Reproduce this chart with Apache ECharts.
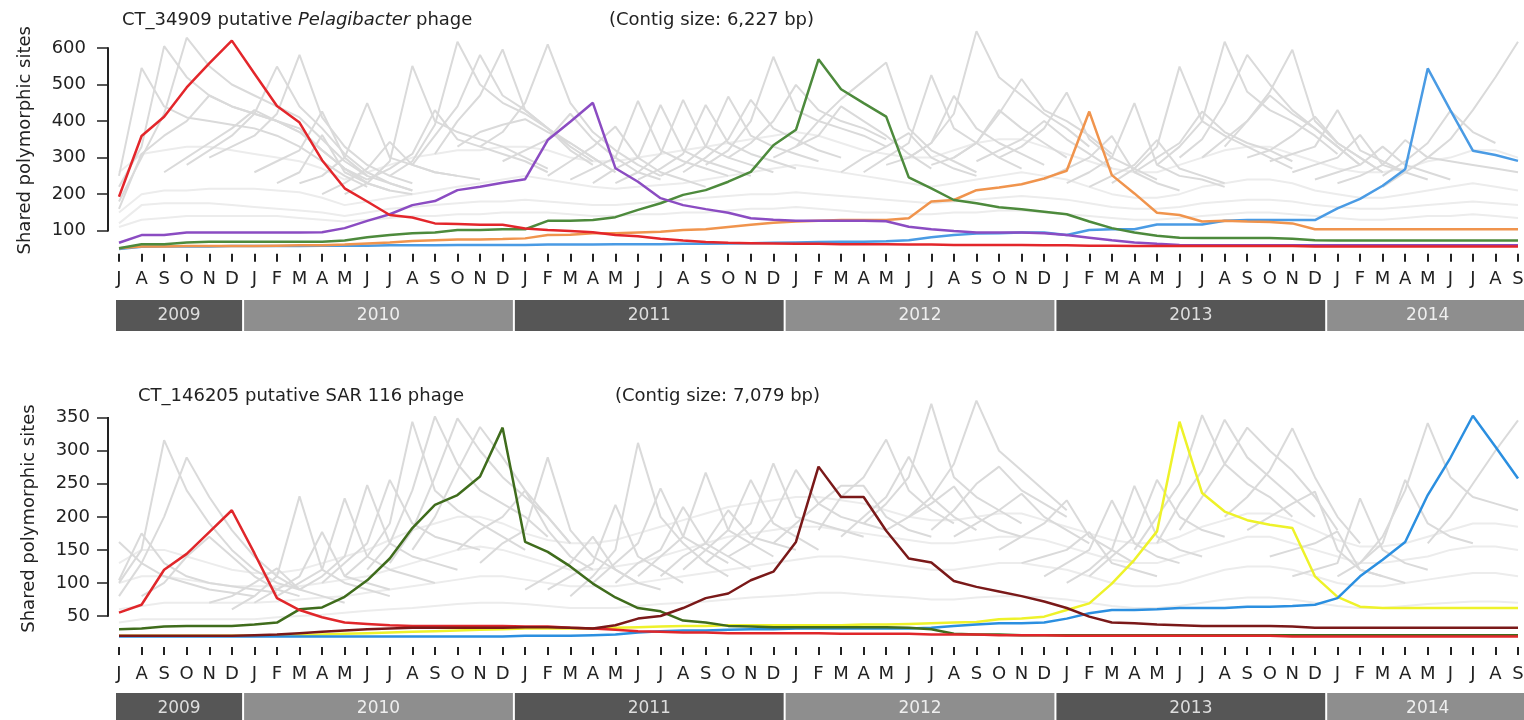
<!DOCTYPE html>
<html><head><meta charset="utf-8">
<script src="https://cdn.jsdelivr.net/npm/echarts@6/dist/echarts.min.js"></script>
<style>html,body{margin:0;padding:0;background:#fff}#c{width:1524px;height:720px}</style>
</head><body><div id="c"></div><script>
// ---------- categories / tick labels ----------
const monthLabels = [
 'J','A','S','O','N','D',
 'J','F','M','A','M','J','J','A','S','O','N','D',
 'J','F','M','A','M','J','J','A','S','O','N','D',
 'J','F','M','A','M','J','J','A','S','O','N','D',
 'J','F','M','A','M','J','J','A','S','O','N','D',
 'J','F','M','A','M','J','J','A','S'];
const yearLabels = ['2009','2010','2011','2012','2013','2014'];
const yearMonthCounts = [6,12,12,12,12,9];
const yTicksTop = [100,200,300,400,500,600];
const yTicksBottom = [50,100,150,200,250,300,350];

// ---------- top panel: highlighted series ----------
const topRed = [193,359,412,492,558,620,
 530,441,396,293,216,180,143,136,120,118,116,116,
 106,102,99,96,88,85,78,73,69,67,66,65,
 64,64,63,63,63,62,62,61,61,61,61,60,
 60,59,59,58,58,58,58,58,58,58,58,57,
 57,57,57,57,57,57,57,57,57];
const topPurple = [67,88,88,95,95,95,
 95,95,95,96,107,127,145,170,181,211,220,231,
 241,348,398,450,271,234,189,170,159,149,134,130,
 127,127,127,127,126,111,104,99,95,95,95,93,
 88,81,74,68,64,61,60,60,60,60,60,60,
 60,60,60,60,60,60,60,60,60];
const topGreen = [52,63,63,68,70,70,
 70,70,70,70,73,82,88,93,95,102,102,104,
 104,127,127,129,137,157,175,198,211,234,261,334,
 376,569,487,449,412,246,216,184,175,164,159,152,
 145,125,107,95,86,81,80,80,80,80,78,74,
 73,73,73,73,73,73,73,73,73];
const topOrange = [52,57,57,58,58,58,
 58,59,60,60,62,65,68,72,74,76,76,77,
 79,88,89,93,93,95,97,102,104,110,116,122,
 125,127,129,129,129,134,180,184,211,218,227,243,
 264,426,252,202,149,143,125,127,125,124,120,104,
 104,104,104,104,104,104,104,104,104];
const topBlue = [50,56,57,57,57,58,
 58,58,58,59,59,59,60,60,60,61,61,61,
 61,62,62,62,63,63,63,64,64,65,66,67,
 68,69,70,70,71,74,82,88,92,93,95,95,
 88,102,104,104,117,117,117,127,129,129,129,129,
 161,187,223,268,544,430,319,307,291];

// ---------- top panel: background (grey) lines ----------
const topGreyBand1 = [150,200,210,210,215,215,
 215,210,205,190,170,180,190,200,210,220,230,240,
 250,240,230,220,215,220,225,230,240,250,260,270,
 280,270,260,250,240,230,220,230,240,250,260,250,
 240,220,200,190,190,200,220,230,240,240,230,210,
 200,190,190,200,210,220,230,220,210];
const topGreyBand2 = [120,170,175,175,175,170,
 165,160,155,150,140,150,160,165,170,175,180,180,
 185,180,175,170,170,175,180,185,190,195,200,200,
 205,200,195,190,185,180,175,180,185,190,195,190,
 185,175,165,160,160,165,175,180,185,185,180,170,
 165,160,160,165,170,175,180,175,170];
const topGreyBand3 = [260,310,320,330,330,320,
 310,300,290,270,240,260,280,300,310,320,320,330,
 330,320,300,290,290,300,310,320,330,340,350,360,
 370,360,340,320,310,300,300,320,340,350,350,330,
 310,290,270,260,260,280,300,320,330,330,310,290,
 270,260,260,270,290,300,320,320,300];
const topGreyBand4 = [110,130,135,140,140,140,
 140,140,135,130,125,130,135,140,140,145,145,150,
 150,150,145,140,140,145,145,150,150,155,160,160,
 165,160,155,150,150,145,145,150,150,155,155,150,
 145,140,135,130,130,135,140,145,150,150,145,140,
 135,130,130,135,140,140,145,140,135];
// each: first item = index of first month in monthLabels, then values
const topGreyPeaks = [
 [0,250,545,440,410,400,390,380,360,330,290,250,220],
 [0,220,330,605,520,470,440,420,400,370,320,270,240],
 [0,180,300,420,628,550,500,470,440,410,350,290,250],
 [0,160,310,360,400,470,440,420,400,380,320,270,230],
 [2,260,300,340,380,430,400,370,320,270,230,210],
 [3,280,320,360,420,549,440,380,310,260,230,210],
 [4,300,330,360,420,581,410,330,280,250,230],
 [6,260,290,320,426,300,250,230,210],
 [7,230,260,362,260,230,210,200],
 [8,230,250,300,449,300,280,260,250],
 [9,200,230,270,343,280,260,250,240],
 [10,200,230,290,551,400,370,350,330,300,270],
 [11,240,270,310,430,350,330,310,290,260],
 [12,250,290,390,617,500,450,420,380,330,290],
 [13,280,360,440,581,470,430,380,320,280],
 [14,310,400,470,596,430,380,340,300,260],
 [15,330,370,390,405,370,340,300,260],
 [16,330,370,450,610,450,370,320,280,250],
 [17,290,320,350,420,350,300,260,240],
 [19,250,290,330,385,300,260,240,220],
 [20,240,270,300,455,320,290,270,250],
 [21,230,270,300,444,320,290,270,250],
 [22,230,260,310,458,330,300,280,260],
 [23,240,270,310,444,340,310,290,270],
 [24,250,280,330,467,360,330,310,290],
 [25,260,300,350,458,380,350,320,300],
 [26,280,320,400,576,430,400,380,360,330],
 [27,300,340,400,499,430,400,380,350],
 [29,300,330,360,440,400,360,310,270],
 [30,330,400,460,510,560,380,320,290,260],
 [32,260,300,330,367,300,270,250],
 [33,260,300,340,526,380,340,300,270],
 [34,280,300,340,469,380,340,310,280],
 [35,300,340,420,646,520,470,420,380,330],
 [36,280,300,340,430,380,340,300],
 [37,300,340,420,515,430,400,360,310],
 [38,290,320,350,400,350,310,270],
 [39,300,330,380,478,350,300,270,240],
 [41,240,270,300,359,260,230,210],
 [42,230,260,300,449,280,250,240,220],
 [43,220,250,280,348,270,250,230],
 [44,230,270,330,549,400,360,330,300,270],
 [45,260,300,340,426,370,340,320,290],
 [46,280,330,400,617,480,430,400,360,310],
 [47,300,350,450,581,500,430,380,330,280],
 [48,300,350,400,470,420,380,330,280],
 [49,330,400,480,595,400,340,300,260],
 [50,300,320,360,412,340,300,260],
 [51,290,310,330,430,320,290,260],
 [52,260,280,300,362,280,260,240],
 [53,240,260,280,330,280,260,240],
 [54,230,250,280,348,300,290,280,270,260],
 [56,250,290,340,428,370,340],
 [56,220,260,300,350,430,520,617]
];

// ---------- bottom panel: highlighted series ----------
const botRed = [55,67,120,144,177,210,
 145,77,59,48,40,38,36,35,35,35,35,35,
 34,34,32,31,29,27,26,25,25,24,24,24,
 24,24,23,23,23,23,22,22,22,21,21,21,
 20,20,20,20,20,20,20,20,20,20,19,19,
 19,19,19,19,19,19,19,19,19];
const botGreen = [30,31,34,35,35,35,
 37,40,60,63,79,104,137,183,218,233,261,335,
 162,147,125,99,78,62,57,43,40,35,34,33,
 33,33,33,33,33,32,30,23,22,22,21,21,
 21,21,21,21,21,21,21,21,21,21,21,21,
 21,21,21,21,21,21,21,21,21];
const botMaroon = [20,20,20,20,20,20,
 21,22,24,26,28,30,31,32,32,32,32,32,
 33,33,32,31,36,46,50,62,77,84,104,117,
 162,276,230,230,179,137,131,103,94,87,80,72,
 62,49,40,39,37,36,35,35,35,35,34,32,
 32,32,32,32,32,32,32,32,32];
const botYellow = [20,20,20,20,20,20,
 20,20,21,22,23,24,25,26,27,28,29,30,
 31,31,31,31,32,33,34,35,35,36,36,36,
 36,36,36,37,37,38,39,40,41,45,46,49,
 59,69,99,135,178,344,236,208,195,188,183,110,
 79,64,62,62,62,62,62,62,62];
const botBlue = [19,19,19,19,19,19,
 19,19,19,19,19,19,19,19,19,19,19,19,
 20,20,20,21,22,25,27,28,28,29,30,30,
 31,31,31,31,31,31,32,35,37,39,39,40,
 46,54,59,59,60,62,62,62,64,64,65,67,
 77,110,135,162,233,289,353,306,258];

// ---------- bottom panel: background (grey) lines ----------
const botGreyBand1 = [60,65,70,70,70,70,
 70,72,75,78,80,85,90,95,100,105,110,110,
 105,100,95,95,95,100,105,110,115,120,125,130,
 135,140,140,135,130,125,120,120,125,130,130,125,
 120,110,100,95,95,100,110,120,125,125,120,110,
 100,95,95,100,105,110,115,115,110];
const botGreyBand2 = [100,110,110,105,100,95,
 95,95,95,100,105,110,120,130,140,150,155,150,
 140,130,120,120,125,130,140,150,160,170,175,180,
 185,185,180,175,170,165,160,160,165,170,170,165,
 155,145,135,130,130,140,150,160,170,170,160,150,
 140,130,130,135,140,150,155,155,150];
const botGreyBand3 = [40,45,45,45,45,45,
 45,48,50,52,55,58,60,62,65,68,70,70,
 68,65,62,62,62,65,68,70,72,75,78,80,
 82,85,85,82,80,78,75,75,78,80,80,78,
 75,70,65,62,62,65,70,75,78,78,75,70,
 65,62,62,65,68,70,72,72,70];
const botGreyBand4 = [130,150,150,140,130,120,
 115,115,120,130,140,150,165,180,190,200,200,190,
 175,165,160,160,165,175,185,195,205,215,220,225,
 230,230,225,220,210,200,195,195,200,205,205,195,
 185,175,165,160,160,170,185,195,205,205,195,180,
 165,155,155,160,170,180,190,190,185];
const botGreyPeaks = [
 [0,162,130,110,100,90,85,80],
 [0,104,175,130,110,100,95,90,85],
 [0,100,150,316,240,190,150,120,100,90],
 [0,80,130,200,290,230,180,140,110,90],
 [1,80,100,140,170,140,110,90,80],
 [4,70,80,100,122,90,80,70],
 [5,60,80,110,231,120,100,90,80],
 [6,70,90,110,177,110,100,90],
 [7,80,100,120,228,140,120,110,100],
 [8,90,110,140,248,160,140,130,120],
 [9,100,130,160,256,190,170,160,150],
 [10,110,140,190,344,240,210,190,170,150],
 [11,120,160,240,352,280,240,220,200,170],
 [12,130,180,260,349,300,260,230,200,160],
 [13,150,200,270,336,290,240,200,160],
 [15,150,180,200,240,180,140,120],
 [16,130,160,180,290,180,140,120,100],
 [18,90,110,130,170,120,100,90],
 [19,90,110,130,218,140,120,100],
 [20,80,110,150,312,200,160,130,110],
 [21,100,130,160,243,170,150,130],
 [22,100,130,150,215,160,140,120],
 [23,110,140,170,267,180,160,140],
 [24,110,140,160,210,170,160,150],
 [25,120,150,180,256,190,170,150],
 [26,130,160,190,281,200,190,180,170],
 [27,140,160,200,271,220,200,190,180],
 [29,160,190,220,247,247,200,180,170],
 [31,180,230,260,317,240,210,190],
 [32,170,200,230,291,230,200,180],
 [33,190,220,260,371,260,230,210,190],
 [34,180,200,220,246,200,180,170],
 [35,200,230,280,376,300,270,240,210],
 [36,180,210,250,276,240,220,200],
 [37,170,190,210,235,200,180,160],
 [39,150,170,190,225,170,150,130],
 [40,130,140,150,177,130,120,110],
 [41,110,130,150,225,160,140,130],
 [42,100,120,150,247,170,150,140],
 [43,110,140,170,256,200,180,170],
 [45,150,200,250,354,280,250,230,200],
 [46,160,220,270,347,290,260,230,200],
 [47,180,230,280,335,300,270,230,180],
 [49,200,230,270,334,260,200,160],
 [50,180,200,220,238,150,120,110],
 [51,140,150,160,178,120,110,100],
 [52,110,120,130,228,150,130,120],
 [54,110,130,160,256,190,170,160],
 [55,130,170,240,342,260,230,220,210],
 [58,160,200,250,300,346]
];

// ---------- build ----------
const FONT = 'DejaVu Sans';
const TXT = '#222';
const N = monthLabels.length;
function placeWindow(spec){
  const arr = new Array(N).fill(null);
  spec.slice(1).forEach((v,i)=>{ arr[spec[0]+i] = v; });
  return arr;
}
function line(data, color, width, axis, z){
  return {type:'line', xAxisIndex:axis, yAxisIndex:axis, data:data, symbol:'none',
    showSymbol:false, silent:true, connectNulls:false, z:z,
    lineStyle:{color:color, width:width}, emphasis:{disabled:true}};
}
// year band spans (category index space)
const yearSpans = [];
{ let c = 0; yearMonthCounts.forEach((m,i)=>{ yearSpans.push([c-0.5, c+m-0.5, i]); c += m; }); }

function yearBand(axis){
  return {type:'custom', xAxisIndex:axis, yAxisIndex:axis, data:yearSpans, clip:false, silent:true,
    renderItem:function(params, api){
      const s = api.value(0), e = api.value(1), i = api.value(2);
      const p0 = api.coord([s,1]), p1 = api.coord([e,0]);
      const left = Math.max(p0[0], params.coordSys.x - 4);
      return {type:'group', children:[
        {type:'rect', shape:{x:left+1, y:p0[1], width:p1[0]-left-2, height:p1[1]-p0[1]},
         style:{fill: i%2 ? '#8e8e8e' : '#565656'}},
        {type:'text', style:{text:yearLabels[i], x:(left+p1[0])/2, y:(p0[1]+p1[1])/2,
         align:'center', verticalAlign:'middle', fill: i%2 ? '#eeeeee' : '#dddddd',
         font:'17px "'+FONT+'"'}}
      ]};
    }};
}

const series = [];
[topGreyBand1, topGreyBand2, topGreyBand3, topGreyBand4].forEach(d=>series.push(line(d,'#ececec',2,0,1)));
topGreyPeaks.forEach(p=>series.push(line(placeWindow(p),'#dadada',2,0,2)));
series.push(line(topBlue,'#4a9be4',2.5,0,5));
series.push(line(topOrange,'#f0944d',2.5,0,5));
series.push(line(topGreen,'#4d8a3c',2.5,0,5));
series.push(line(topPurple,'#8b4cc2',2.5,0,5));
series.push(line(topRed,'#e3262b',2.5,0,6));

[botGreyBand1, botGreyBand2, botGreyBand3, botGreyBand4].forEach(d=>series.push(line(d,'#ececec',2,1,1)));
botGreyPeaks.forEach(p=>series.push(line(placeWindow(p),'#dadada',2,1,2)));
series.push(line(botYellow,'#eef22a',2.5,1,5));
series.push(line(botBlue,'#2b8fe0',2.5,1,5));
series.push(line(botGreen,'#3f6c1c',2.5,1,5));
series.push(line(botMaroon,'#7a1919',2.5,1,6));
series.push(line(botRed,'#e0262a',2.5,1,5));

series.push(yearBand(2));
series.push(yearBand(3));

function monthAxis(grid, offset, margin){
  return {gridIndex:grid, type:'category', data:monthLabels, boundaryGap:false, offset:offset,
    axisLine:{show:false},
    axisTick:{show:true, length:8, interval:0, alignWithLabel:true, lineStyle:{color:TXT, width:2}},
    axisLabel:{interval:0, margin:margin, fontSize:18, fontFamily:FONT, color:TXT, showMinLabel:true, showMaxLabel:true},
    splitLine:{show:false}};
}
function valueAxis(grid, min, max, ticks, margin, nameGap){
  return {gridIndex:grid, type:'value', min:min, max:max, offset:11,
    axisLine:{show:false},
    axisTick:{show:true, length:11, customValues:ticks, lineStyle:{color:TXT, width:1.5}},
    axisLabel:{customValues:ticks, margin:margin, fontSize:18, fontFamily:FONT, color:TXT},
    splitLine:{show:false},
    name:'Shared polymorphic sites', nameLocation:'middle', nameGap:nameGap,
    nameTextStyle:{fontSize:18, fontFamily:FONT, color:TXT}};
}
const hiddenX = g => ({gridIndex:g, type:'value', min:0, max:N-1, show:false});
const hiddenY = g => ({gridIndex:g, type:'value', min:0, max:1, show:false});

const richT = {n:{fontSize:18, fontFamily:FONT, color:TXT}, i:{fontSize:18, fontFamily:FONT, color:TXT, fontStyle:'italic'}};
const tStyle = {fontSize:18, fontFamily:FONT, color:TXT, fontWeight:'normal'};

const option = {
  animation:false,
  backgroundColor:'#ffffff',
  title:[
    {left:122, top:11, padding:0, text:'{n|CT_34909 putative }{i|Pelagibacter}{n| phage}', textStyle:Object.assign({rich:richT}, tStyle)},
    {left:609, top:11, padding:0, text:'(Contig size: 6,227 bp)', textStyle:tStyle},
    {left:138, top:387, padding:0, text:'CT_146205 putative SAR 116 phage', textStyle:tStyle},
    {left:615, top:387, padding:0, text:'(Contig size: 7,079 bp)', textStyle:tStyle}
  ],
  grid:[
    {left:119, right:6, top:29.7, height:221.1, outerBoundsMode:'none'},
    {left:119, right:6, top:397.9, height:241.2, outerBoundsMode:'none'},
    {left:119, right:6, top:300, height:31, outerBoundsMode:'none'},
    {left:119, right:6, top:693, height:31, outerBoundsMode:'none'}
  ],
  xAxis:[monthAxis(0,3,17), monthAxis(1,8,18), hiddenX(2), hiddenX(3)],
  yAxis:[valueAxis(0,45,650,yTicksTop,22,74), valueAxis(1,15,380,yTicksBottom,18,70), hiddenY(2), hiddenY(3)],
  series:series
};

const chart = echarts.init(document.getElementById('c'), null, {renderer:'canvas', devicePixelRatio:1});
chart.setOption(option);

// y axis spines spanning first..last tick only
function spine(axisIdx, ticks){
  const x = chart.convertToPixel({xAxisIndex:axisIdx}, 0) - 11;
  const y1 = chart.convertToPixel({yAxisIndex:axisIdx}, ticks[0]);
  const y2 = chart.convertToPixel({yAxisIndex:axisIdx}, ticks[ticks.length-1]);
  return {type:'line', shape:{x1:x, y1:y1+0.75, x2:x, y2:y2-0.75}, style:{stroke:TXT, lineWidth:2}, silent:true};
}
chart.setOption({graphic:[spine(0, yTicksTop), spine(1, yTicksBottom)]});
</script></body></html>
